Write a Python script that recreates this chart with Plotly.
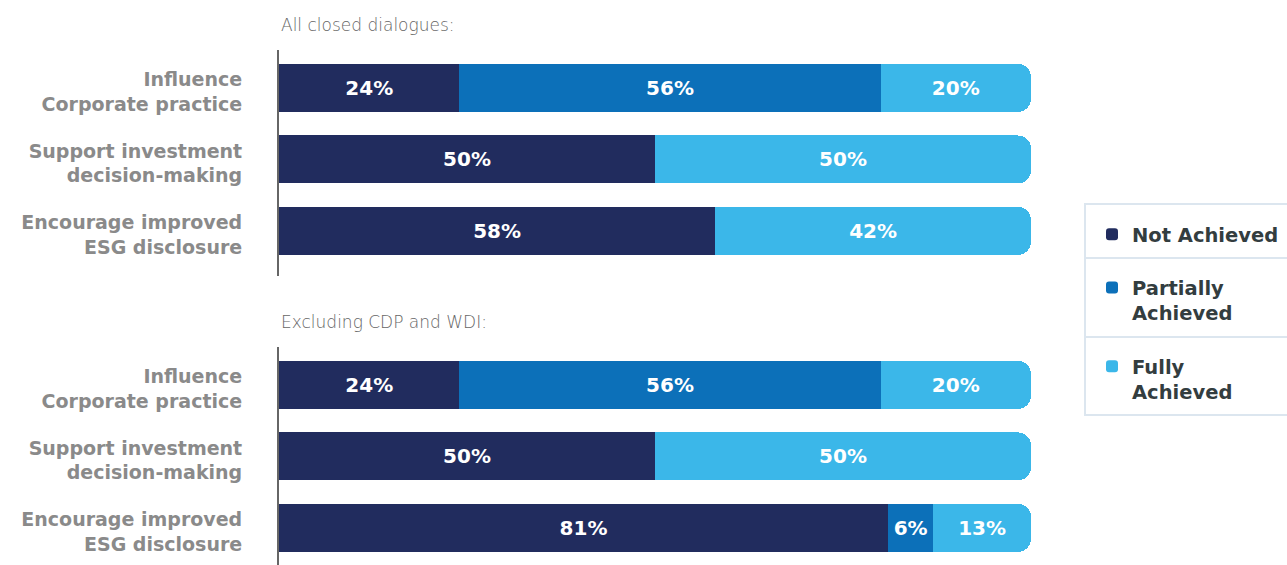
import plotly.graph_objects as go

categories = ["Influence<br>Corporate practice",
              "Support investment<br>decision-making",
              "Encourage improved<br>ESG disclosure"]
series = ["Not Achieved", "Partially<br>Achieved", "Fully<br>Achieved"]
all_not = [24, 50, 58]
all_partial = [56, None, None]
all_fully = [20, 50, 42]
excl_not = [24, 50, 81]
excl_partial = [56, None, 6]
excl_fully = [20, 50, 13]
panel_titles = ["All closed dialogues:", "Excluding CDP and WDI:"]
colors = ["#212C5E", "#0C70B9", "#3BB7E9"]

BOLD = "DejaVu Sans, Open Sans, sans-serif"
W, H = 1287, 565

fig = go.Figure()
panels = [(all_not, all_partial, all_fully), (excl_not, excl_partial, excl_fully)]
for p, vals in enumerate(panels):
    for s, (name, v, c) in enumerate(zip(series, vals, colors)):
        fig.add_trace(go.Bar(
            y=categories, x=v, orientation="h", name=name,
            marker=dict(color=c, line=dict(width=0)),
            width=0.67,
            texttemplate="%{x}%", textposition="inside", insidetextanchor="middle",
            textangle=0,
            textfont=dict(family=BOLD, size=20, color="white", weight=700),
            showlegend=(p == 0), legendgroup=name,
            xaxis="x" if p == 0 else "x2", yaxis="y" if p == 0 else "y2",
            hoverinfo="skip",
        ))

xd = [279 / W, 1031 / W]
yaxis_common = dict(
    showline=True, linecolor="#666666", linewidth=2, showgrid=False, zeroline=False,
    ticks="", ticklabelstandoff=31, ticklabelshift=-4, type="category",
    tickfont=dict(family=BOLD, size=19, color="#8A8A8A", weight=700),
)
fig.update_layout(
    width=W, height=H,
    margin=dict(l=0, r=0, t=0, b=0),
    plot_bgcolor="white", paper_bgcolor="white",
    barmode="stack", barcornerradius=13,
    uniformtext=dict(minsize=20, mode="show"),
    xaxis=dict(domain=xd, range=[0, 100], visible=False, anchor="y"),
    xaxis2=dict(domain=xd, range=[0, 100], visible=False, anchor="y2"),
    yaxis=dict(domain=[1 - 276 / H, 1 - 50 / H], range=[2.63, -0.53], anchor="x", **yaxis_common),
    yaxis2=dict(domain=[0, 1 - 347 / H], range=[2.52, -0.53], anchor="x2", **yaxis_common),
    legend=dict(
        x=1092 / W, xanchor="left", y=1 - 215 / H, yanchor="top",
        bgcolor="rgba(0,0,0,0)", borderwidth=0,
        font=dict(family=BOLD, size=19.5, color="#333D3F", weight=700),
        valign="top", tracegroupgap=25, itemwidth=30,
        traceorder="grouped",
    ),
    showlegend=True,
)

# legend frame and separators
fig.add_shape(type="rect", xref="paper", yref="paper",
              x0=1085 / W, x1=1.02, y0=1 - 415 / H, y1=1 - 204 / H,
              line=dict(color="#DCE6EF", width=2), fillcolor="rgba(0,0,0,0)")
for yy in (258, 337):
    fig.add_shape(type="line", xref="paper", yref="paper",
                  x0=1085 / W, x1=1.02, y0=1 - yy / H, y1=1 - yy / H,
                  line=dict(color="#DCE6EF", width=2))

for title, ypx in zip(panel_titles, (25, 322)):
    fig.add_annotation(text=title, xref="paper", yref="paper",
                       x=279 / W, y=1 - ypx / H, xanchor="left", yanchor="middle",
                       showarrow=False,
                       font=dict(family="DejaVu Sans, sans-serif", size=17,
                                 color="#666666", weight=200))

fig.write_html("out.html", config={"displayModeBar": False},
               post_script="document.body.style.margin='0';")
